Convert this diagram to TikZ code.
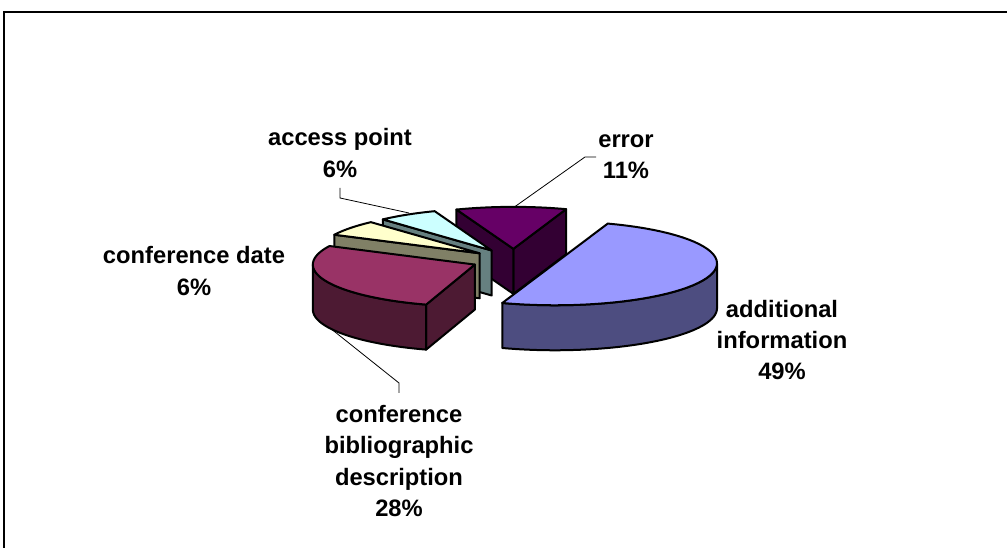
\documentclass[tikz,border=0pt]{standalone}
\usepackage{fontspec}
\setmainfont{Liberation Sans}
\definecolor{aiTop}{HTML}{9999FF}
\definecolor{aiSide}{HTML}{4D4D80}
\definecolor{erTop}{HTML}{660066}
\definecolor{erSide}{HTML}{330033}
\definecolor{apTop}{HTML}{CCFFFF}
\definecolor{apSide}{HTML}{668080}
\definecolor{cdTop}{HTML}{FFFFCC}
\definecolor{cdSide}{HTML}{808066}
\definecolor{bdTop}{HTML}{993366}
\definecolor{bdSide}{HTML}{4D1A33}
\newcommand\pieRad[2]{\filldraw[face,fill=#2] (0,0) -- ({162*cos(#1)},{42*sin(#1)}) -- ({162*cos(#1)},{42*sin(#1)-45}) -- (0,-45) -- cycle;}
\newcommand\pieOut[3]{\filldraw[face,fill=#3] plot[domain=#1:#2,samples=50] ({162*cos(\x)},{42*sin(\x)}) -- plot[domain=#2:#1,samples=50] ({162*cos(\x)},{42*sin(\x)-45}) -- cycle;}
\newcommand\pieTop[3]{\filldraw[face,fill=#3] (0,0) -- plot[domain=#1:#2,samples=50] ({162*cos(\x)},{42*sin(\x)}) -- cycle;}
\begin{document}
\begin{tikzpicture}[x=0.75pt,y=0.75pt,
  face/.style={draw=black,line width=1.5pt,line join=round},
  lbl/.style={font=\fontsize{17.8}{23.3}\selectfont\bfseries,align=center,inner sep=0pt},
  leader/.style={draw=black,line width=0.6pt}]
\useasboundingbox (0,0) rectangle (1007,548);
\fill[white] (0,0) rectangle (1007,548);
\draw[line width=1.5pt] (3.5,0) -- (3.5,536) -- (1007,536);

% labels
\node[lbl] (lAP) at (340,395) {access point\\6\%};
\node[lbl] (lER) at (626,391) {error\\11\%};
\node[lbl] (lCD) at (194,277) {conference date\\6\%};
\node[lbl] (lBD) at (399,87) {conference\\bibliographic\\description\\28\%};
\node[lbl] (lAI) at (782,208) {additional\\information\\49\%};

% leader lines
\coordinate (apA) at (340,360);
\coordinate (apEnd) at (409,335);
\coordinate (erA) at (596,391);
\coordinate (erEnd) at (513,340);
\coordinate (bdA) at (399,155);
\coordinate (bdEnd) at (330,220);
\draw[leader] (apA) -- ++(0,-10) -- (apEnd);
\draw[leader] (erA) -- ++(-11,0) -- (erEnd);
\draw[leader] (bdA) -- ++(0,10) -- (bdEnd);

% error 11%
\begin{scope}[shift={({514+42.93*cos(90.8)},{288+11.13*sin(90.8)})}]
  \pieRad{71}{erSide}
  \pieRad{110.6}{erSide}
  \pieTop{71}{110.6}{erTop}
\end{scope}
% access point 6%
\begin{scope}[shift={({514+42.93*cos(121.4)},{288+11.13*sin(121.4)})}]
  \pieRad{132.2}{apSide}
  \pieTop{110.6}{132.2}{apTop}
\end{scope}
% conference date 6%
\begin{scope}[shift={({514+42.93*cos(143)},{288+11.13*sin(143)})}]
  \pieRad{153.8}{cdSide}
  \pieTop{132.2}{153.8}{cdTop}
\end{scope}
% conference bibliographic description 28%
\begin{scope}[shift={({514+42.93*cos(204.2)},{288+11.13*sin(204.2)})}]
  \pieRad{252.5}{bdSide}
  \pieOut{180}{252.5}{bdSide}
  \pieTop{153.8}{252.5}{bdTop}
\end{scope}
% additional information 49%
\begin{scope}[shift={({514+42.93*cos(-17.2)},{288+11.13*sin(-17.2)})}]
  \pieOut{-109}{0}{aiSide}
  \pieTop{-109}{71}{aiTop}
\end{scope}
\end{tikzpicture}
\end{document}
